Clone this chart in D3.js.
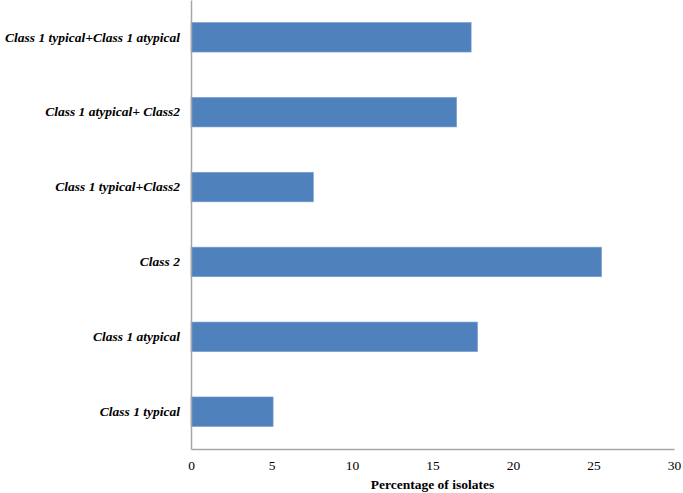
<!DOCTYPE html>
<html>
<head>
<meta charset="utf-8">
<script src="https://cdn.jsdelivr.net/npm/d3@7"></script>
<style>
  html, body { margin: 0; padding: 0; background: #ffffff; }
  svg { display: block; }
</style>
</head>
<body>
<svg id="chart" width="683" height="493"></svg>
<script>
const categories = [
  "Class 1 typical+Class 1 atypical",
  "Class 1 atypical+ Class2",
  "Class 1 typical+Class2",
  "Class 2",
  "Class 1 atypical",
  "Class 1 typical"
];
const values = [17.4, 16.5, 7.6, 25.5, 17.8, 5.1];
const xTicks = [0, 5, 10, 15, 20, 25, 30];
const xTitle = "Percentage of isolates";

(function () {
  const svg = d3.select("#chart");
  const mLeft = 191, mRight = 674, mTop = 0, mBottom = 449;

  const x = d3.scaleLinear().domain([0, 30]).range([mLeft, mRight]);
  const y = d3.scaleBand().domain(categories).range([mTop, mBottom]).paddingInner(0.605).paddingOuter(0.3);

  svg.append("g").selectAll("rect")
    .data(categories)
    .join("rect")
    .attr("x", x(0))
    .attr("y", d => y(d))
    .attr("width", (d, i) => x(values[i]) - x(0))
    .attr("height", y.bandwidth())
    .attr("fill", "#4f81bd")
    .attr("stroke", "#7ba0d1")
    .attr("stroke-width", 0.6);

  const xAxis = svg.append("g")
    .attr("transform", `translate(0,${mBottom})`)
    .call(d3.axisBottom(x).tickValues(xTicks).tickSize(0).tickPadding(11).tickFormat(d3.format("d")));
  xAxis.select(".domain").attr("stroke", "#a6a6a6").attr("stroke-width", 1.5);
  xAxis.selectAll("text")
    .attr("font-family", "'Liberation Serif', 'Times New Roman', serif")
    .attr("font-size", 13.5)
    .attr("fill", "#000");

  const yAxis = svg.append("g")
    .attr("transform", `translate(${mLeft},0)`)
    .call(d3.axisLeft(y).tickSize(0).tickPadding(11));
  yAxis.select(".domain").attr("stroke", "#a6a6a6").attr("stroke-width", 1.5);
  yAxis.selectAll("text")
    .attr("font-family", "'Liberation Serif', 'Times New Roman', serif")
    .attr("font-size", 13.5)
    .attr("font-weight", "bold")
    .attr("font-style", "italic")
    .attr("fill", "#000");

  svg.append("text")
    .attr("x", (mLeft + mRight) / 2)
    .attr("y", 489)
    .attr("text-anchor", "middle")
    .attr("font-family", "'Liberation Serif', 'Times New Roman', serif")
    .attr("font-size", 13.5)
    .attr("font-weight", "bold")
    .attr("fill", "#000")
    .text(xTitle);
})();
</script>
</body>
</html>
